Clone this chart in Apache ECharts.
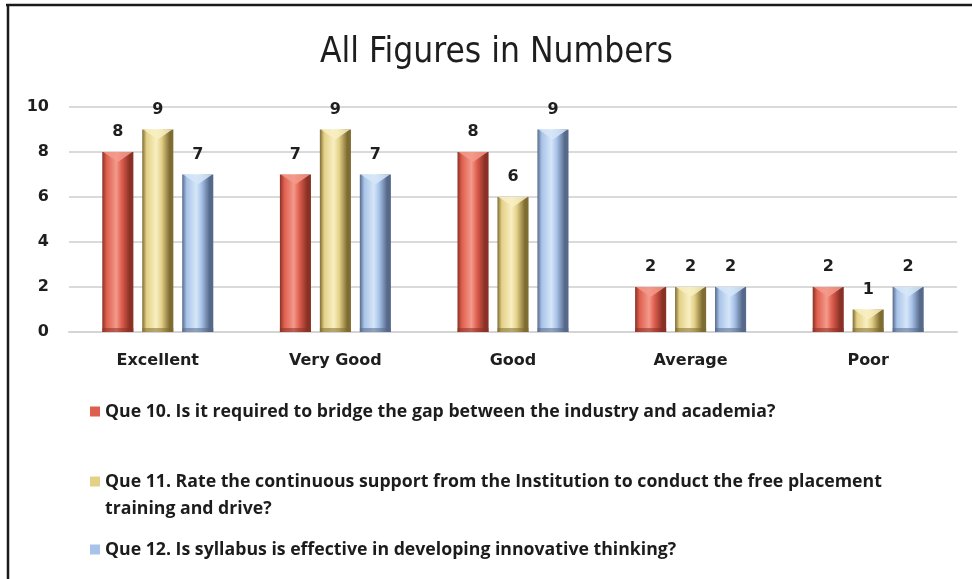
<!DOCTYPE html>
<html>
<head>
<meta charset="utf-8">
<script src="https://cdn.jsdelivr.net/npm/echarts@6/dist/echarts.min.js"></script>
<style>
  html, body { margin: 0; padding: 0; background: #fff; }
  #chart { width: 972px; height: 579px; }
</style>
</head>
<body>
<div id="chart"></div>
<script>
// Response categories and counts per question
const categories = ['Excellent', 'Very Good', 'Good', 'Average', 'Poor'];
const que10 = [8, 7, 8, 2, 2];
const que11 = [9, 9, 6, 2, 1];
const que12 = [7, 7, 9, 2, 2];
const seriesNames = [
  'Que 10. Is it required to bridge the gap between the industry and academia?',
  'Que 11. Rate the continuous support from the Institution to conduct the free placement\ntraining and drive?',
  'Que 12. Is syllabus is effective in developing innovative thinking?'
];
const yTicks = { min: 0, max: 10, interval: 2 };

// bevel palettes: [dark edge, body, highlight]
const palettes = [
  ['#8a3126', '#df5f4e', '#f39a8c'],
  ['#7f6c32', '#e4d188', '#f8efc2'],
  ['#56698a', '#a8c3e9', '#d6e6f8']
];

const chart = echarts.init(document.getElementById('chart'));

function bevelBar(idx) {
  const pal = palettes[idx];
  return function (params, api) {
    const catIdx = api.value(0);
    const val = api.value(1);
    const band = api.size([1, 0])[0];
    const w = band * 0.175;
    const step = band * 0.225;
    const center = api.coord([catIdx, 0])[0] + (idx - 1) * step;
    const top = api.coord([catIdx, val]);
    const base = api.coord([catIdx, 0]);
    const x = center - w / 2;
    const y = top[1];
    const h = base[1] - top[1];
    const cap = Math.min(w * 0.32, h * 0.45);
    return {
      type: 'group',
      children: [
        {
          type: 'rect',
          shape: { x: x, y: y, width: w, height: h },
          style: {
            fill: new echarts.graphic.LinearGradient(0, 0, 1, 0, [
              { offset: 0, color: pal[0] },
              { offset: 0.14, color: pal[1] },
              { offset: 0.45, color: pal[2] },
              { offset: 0.62, color: pal[1] },
              { offset: 0.88, color: pal[0] },
              { offset: 1, color: pal[0] }
            ])
          }
        },
        {
          type: 'polygon',
          shape: { points: [[x + 1, y], [x + w - 1, y], [center, y + cap]] },
          style: { fill: pal[2], opacity: 0.85 }
        },
        {
          type: 'rect',
          shape: { x: x, y: base[1] - Math.min(4, h * 0.2), width: w, height: Math.min(4, h * 0.2) },
          style: { fill: pal[0], opacity: 0.55 }
        },
        {
          type: 'text',
          style: {
            x: center,
            y: y - 12,
            text: String(val),
            align: 'center',
            verticalAlign: 'bottom',
            fill: '#1e1e1e',
            font: 'bold 16px "DejaVu Sans", sans-serif'
          }
        }
      ]
    };
  };
}

const allValues = [que10, que11, que12];
const series = allValues.map(function (vals, i) {
  return {
    name: seriesNames[i],
    type: 'custom',
    renderItem: bevelBar(i),
    itemStyle: { color: palettes[i][1] },
    encode: { x: 0, y: 1 },
    data: vals.map(function (v, c) { return [c, v]; })
  };
});

// a two-line entry gets an empty leading line so its first line sits beside the icon
const legendTops = [398, 441, 536];
const legends = seriesNames.map(function (name, i) {
  return {
    data: [name],
    left: 90,
    top: legendTops[i],
    padding: 0,
    orient: 'vertical',
    icon: 'rect',
    itemWidth: 10,
    itemHeight: 10,
    itemGap: 0,
    selectedMode: false,
    formatter: function (n) {
      return n.indexOf('\n') >= 0 ? '\n' + n : n;
    },
    textStyle: {
      fontFamily: '"Open Sans", sans-serif',
      fontWeight: 'bold',
      fontSize: 17.7,
      color: '#1c1c1c',
      lineHeight: 27
    }
  };
});

chart.setOption({
  animation: false,
  backgroundColor: '#ffffff',
  title: {
    text: 'All Figures in Numbers',
    left: 320,
    top: 35,
    padding: 0,
    textStyle: {
      fontFamily: '"DejaVu Sans Condensed", sans-serif',
      fontWeight: 'normal',
      fontSize: 35,
      color: '#1e1e1e'
    }
  },
  legend: legends,
  grid: { left: 69, right: 15, top: 107, bottom: 247, containLabel: false },
  xAxis: {
    type: 'category',
    data: categories,
    axisTick: { show: false },
    axisLine: { lineStyle: { color: '#d4d4d4', width: 2 } },
    axisLabel: {
      margin: 21,
      fontFamily: '"DejaVu Sans", sans-serif',
      fontWeight: 'bold',
      fontSize: 16,
      color: '#1e1e1e'
    }
  },
  yAxis: {
    type: 'value',
    min: yTicks.min,
    max: yTicks.max,
    interval: yTicks.interval,
    axisLine: { show: false },
    axisTick: { show: false },
    splitLine: { lineStyle: { color: '#dadada', width: 2 } },
    axisLabel: {
      margin: 20,
      fontFamily: '"DejaVu Sans", sans-serif',
      fontWeight: 'bold',
      fontSize: 16,
      color: '#1e1e1e'
    }
  },
  graphic: [
    { type: 'line', shape: { x1: 6, y1: 5, x2: 972, y2: 5 }, style: { stroke: '#1a1a1a', lineWidth: 2.5 } },
    { type: 'line', shape: { x1: 8, y1: 5, x2: 8, y2: 579 }, style: { stroke: '#1a1a1a', lineWidth: 2.5 } }
  ],
  series: series
});
</script>
</body>
</html>
